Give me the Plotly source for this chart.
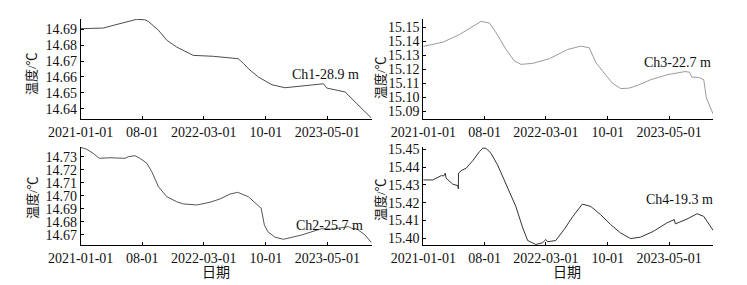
import plotly.graph_objects as go

# ---------------- data ----------------
ch1_dates = ["2021-01-01", "2021-03-20", "2021-04-15", "2021-05-17", "2021-07-13", "2021-08-10",
             "2021-08-22", "2021-09-26", "2021-10-25", "2021-11-28", "2022-01-02", "2022-01-24",
             "2022-04-03", "2022-05-31", "2022-06-28", "2022-07-16", "2022-08-02", "2022-09-05",
             "2022-10-22", "2022-12-06", "2023-02-13", "2023-04-18", "2023-04-29", "2023-05-28",
             "2023-07-02", "2023-07-19", "2023-08-16", "2023-09-30"]
ch1_temp = [14.6904, 14.6908, 14.6921, 14.6935, 14.6963, 14.6960,
            14.6950, 14.6894, 14.6831, 14.6788, 14.6753, 14.6736,
            14.6730, 14.6719, 14.6715, 14.6685, 14.6652, 14.6600,
            14.6551, 14.6532, 14.6543, 14.6557, 14.6530, 14.6519,
            14.6505, 14.6473, 14.6421, 14.6341]

ch3_dates = ["2021-01-01", "2021-03-10", "2021-05-06", "2021-06-21", "2021-07-20", "2021-08-18",
             "2021-09-10", "2021-10-14", "2021-11-12", "2021-12-05", "2022-01-14", "2022-03-13",
             "2022-04-27", "2022-05-15", "2022-06-07", "2022-06-30", "2022-07-29", "2022-08-21",
             "2022-09-19", "2022-10-17", "2022-11-15", "2022-12-14", "2023-01-12", "2023-02-27",
             "2023-04-24", "2023-06-26", "2023-07-11", "2023-07-19", "2023-08-11", "2023-08-29",
             "2023-09-07", "2023-09-30"]
ch3_temp = [15.1362, 15.1392, 15.1446, 15.1505, 15.1540, 15.1528,
            15.1458, 15.1340, 15.1258, 15.1234, 15.1241, 15.1274,
            15.1317, 15.1340, 15.1352, 15.1364, 15.1352, 15.1246,
            15.1171, 15.1100, 15.1061, 15.1065, 15.1084, 15.1125,
            15.1160, 15.1183, 15.1178, 15.1143, 15.1141, 15.1125,
            15.0995, 15.0882]

ch2_dates = ["2021-01-01", "2021-01-22", "2021-02-13", "2021-03-06", "2021-04-12", "2021-05-17",
             "2021-06-03", "2021-06-14", "2021-07-07", "2021-07-24", "2021-08-17", "2021-09-03",
             "2021-09-26", "2021-10-25", "2021-11-28", "2021-12-21", "2022-02-05", "2022-03-23",
             "2022-04-26", "2022-05-31", "2022-06-26", "2022-08-02", "2022-09-05", "2022-09-15",
             "2022-09-26", "2022-10-08", "2022-11-02", "2022-12-01", "2022-12-30", "2023-02-02",
             "2023-03-09", "2023-04-12", "2023-05-17", "2023-06-14", "2023-07-13", "2023-07-24",
             "2023-08-11", "2023-09-08", "2023-09-30"]
ch2_temp = [14.7372, 14.7357, 14.7326, 14.7288, 14.7292, 14.7288,
            14.7288, 14.7300, 14.7308, 14.7288, 14.7250, 14.7185,
            14.7070, 14.6993, 14.6955, 14.6938, 14.6930, 14.6951,
            14.6976, 14.7014, 14.7027, 14.6993, 14.6930, 14.6905,
            14.6777, 14.6725, 14.6682, 14.6667, 14.6682, 14.6700,
            14.6725, 14.6748, 14.6744, 14.6751, 14.6764, 14.6751,
            14.6746, 14.6700, 14.6641]

ch4_dates = ["2021-01-01", "2021-02-03", "2021-02-21", "2021-03-04", "2021-03-13", "2021-03-18",
             "2021-03-21", "2021-04-02", "2021-04-13", "2021-05-01", "2021-05-02", "2021-05-03",
             "2021-05-12", "2021-05-29", "2021-06-21", "2021-07-14", "2021-07-26", "2021-08-06",
             "2021-08-23", "2021-09-15", "2021-10-14", "2021-11-17", "2021-12-11", "2021-12-28",
             "2022-01-25", "2022-02-17", "2022-03-01", "2022-03-07", "2022-03-18", "2022-04-04",
             "2022-05-03", "2022-06-01", "2022-07-05", "2022-08-03", "2022-09-06", "2022-10-11",
             "2022-11-14", "2022-12-19", "2023-01-22", "2023-03-08", "2023-04-23", "2023-05-19",
             "2023-05-23", "2023-06-15", "2023-07-02", "2023-08-06", "2023-08-29", "2023-09-30"]
ch4_temp = [15.4328, 15.4328, 15.4343, 15.4352, 15.4351, 15.4366,
            15.4338, 15.4319, 15.4304, 15.4296, 15.4278, 15.4366,
            15.4380, 15.4394, 15.4436, 15.4487, 15.4507, 15.4506,
            15.4478, 15.4412, 15.4300, 15.4179, 15.4058, 15.3987,
            15.3965, 15.3974, 15.3993, 15.3980, 15.3983, 15.3987,
            15.4049, 15.4120, 15.4192, 15.4179, 15.4133, 15.4077,
            15.4030, 15.3998, 15.4006, 15.4039, 15.4086, 15.4105,
            15.4081, 15.4095, 15.4108, 15.4138, 15.4123, 15.4045]

tick_vals = ["2021-01-01", "2021-08-01", "2022-03-01", "2022-10-01", "2023-05-01", "2023-10-01"]
tick_text = ["2021-01-01", "08-01", "2022-03-01", "10-01", "2023-05-01", ""]

labels = ["Ch1-28.9 m", "Ch3-22.7 m", "Ch2-25.7 m", "Ch4-19.3 m"]
y_title = "温度/℃"
x_title = "日期"

# ---------------- figure ----------------
W, H = 747, 285
FONT = "Liberation Serif, Times New Roman, Noto Sans CJK SC, serif"


def px_x(p):
    return p / W


def px_y(p):
    return 1 - p / H


panels = [
    # dates, temps, color, x-domain px, y-domain px (top,bottom), y range, y ticks
    (ch1_dates, ch1_temp, "#4d4d4d", (80.7, 371.7), (19, 118.7), (14.6337, 14.6965),
     [14.64, 14.65, 14.66, 14.67, 14.68, 14.69]),
    (ch3_dates, ch3_temp, "#9a9a9a", (423.3, 713.3), (19, 118.7), (15.0847, 15.1557),
     [15.09, 15.10, 15.11, 15.12, 15.13, 15.14, 15.15]),
    (ch2_dates, ch2_temp, "#555555", (80.7, 371.7), (146.7, 245), (14.6623, 14.7377),
     [14.67, 14.68, 14.69, 14.70, 14.71, 14.72, 14.73]),
    (ch4_dates, ch4_temp, "#333333", (423.3, 713.3), (146.7, 245), (15.3962, 15.4515),
     [15.40, 15.41, 15.42, 15.43, 15.44, 15.45]),
]

fig = go.Figure()
layout = dict(
    template="none",
    width=W, height=H,
    margin=dict(l=0, r=0, t=0, b=0, pad=0, autoexpand=False),
    paper_bgcolor="white", plot_bgcolor="white",
    showlegend=False,
    font=dict(family=FONT, size=14, color="#111111"),
)

for i, (d, t, col, xd, yd, yr, yt) in enumerate(panels):
    n = "" if i == 0 else str(i + 1)
    fig.add_trace(go.Scatter(x=d, y=t, mode="lines", line=dict(color=col, width=1),
                             xaxis="x" + n, yaxis="y" + n))
    layout["xaxis" + n] = dict(
        domain=[px_x(xd[0]), px_x(xd[1])], anchor="y" + n,
        type="date", range=["2021-01-01", "2023-10-01"], automargin=False,
        tickmode="array", tickvals=tick_vals, ticktext=tick_text,
        ticks="inside", ticklen=3, tickcolor="black", tickwidth=1,
        showline=True, linecolor="black", linewidth=1,
        showgrid=False, zeroline=False,
        tickfont=dict(family=FONT, size=14, color="#111111"),
    )
    layout["yaxis" + n] = dict(
        domain=[px_y(yd[1]), px_y(yd[0])], anchor="x" + n, automargin=False,
        range=list(yr), tickmode="array", tickvals=yt, tickformat=".2f",
        ticks="inside", ticklen=3, tickcolor="black", tickwidth=1,
        showline=True, linecolor="black", linewidth=1,
        showgrid=False, zeroline=False,
        tickfont=dict(family=FONT, size=14, color="#111111"),
    )

fig.update_layout(**layout)

annots = []
# channel labels
for txt, (cx, cy) in zip(labels, [(325.7, 75), (677.5, 62), (329, 225), (679, 199.5)]):
    annots.append(dict(text=txt, x=px_x(cx), y=px_y(cy), xref="paper", yref="paper",
                       xanchor="center", yanchor="middle", showarrow=False,
                       font=dict(family=FONT, size=14, color="#111111")))
# y titles
for (cx, cy) in [(32, 74), (381, 78), (32, 198), (380, 200)]:
    annots.append(dict(text=y_title, x=px_x(cx), y=px_y(cy), xref="paper", yref="paper",
                       xanchor="center", yanchor="middle", showarrow=False, textangle=-90,
                       font=dict(family=FONT, size=13, color="#111111")))
# x titles
for (cx, cy) in [(216, 272), (567, 272)]:
    annots.append(dict(text=x_title, x=px_x(cx), y=px_y(cy), xref="paper", yref="paper",
                       xanchor="center", yanchor="middle", showarrow=False,
                       font=dict(family=FONT, size=14, color="#111111")))
fig.update_layout(annotations=annots)

fig.write_html("out.html",
               config={"displayModeBar": False, "staticPlot": True},
               post_script="document.body.style.margin='0px';document.body.style.padding='0px';")
